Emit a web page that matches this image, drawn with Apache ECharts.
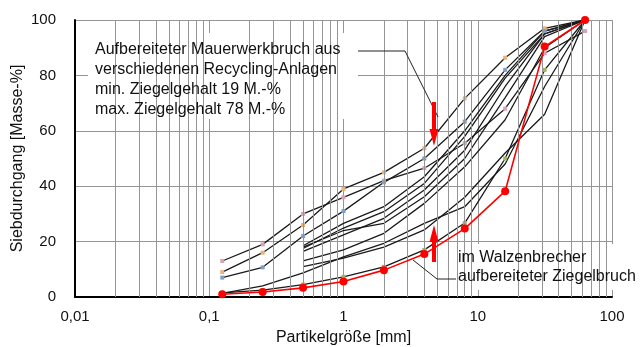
<!DOCTYPE html>
<html>
<head>
<meta charset="utf-8">
<script src="https://cdn.jsdelivr.net/npm/echarts@6/dist/echarts.min.js"></script>
<style>
  html, body { margin: 0; padding: 0; background: #fff; }
  #chart { width: 641px; height: 347px; }
</style>
</head>
<body>
<div id="chart"></div>
<script>
// Sieve sizes in mm
const sieves = [0.125, 0.25, 0.5, 1, 2, 4, 8, 16, 31.5, 63];

// Grading curves of processed masonry rubble (several recycling plants), passing in mass-%
const rc1 = [13, 19, 30, 36, 42, 46.5, 55.5, 68, 88, 96];
const rc2 = [9, 16, 26, 39, 45, 53.7, 71.7, 86.4, 97, 100];
const rc3 = [7, 10.7, 22, 31, 41.4, 50, 63.3, 82, 96, 100];
const rc4 = [null, null, 18.5, 26.6, 32.6, 43.4, 60, 80, 96, 100];
const rc5 = [null, null, 17.5, 24.9, 30.8, 41, 58, 79, 95, 100];
const rc6 = [null, null, 16.5, 22.4, 28.4, 38.6, 53, 76, 95, 100];
const rc7 = [null, null, 18, 24, 26.6, 36.2, 50, 72, 94, 100];
const rc8 = [null, null, 13, 17, 23, 33.8, 47, 64, 90, 100];
const rc9 = [1.3, 4, 8.7, 14.5, 19.4, 26.6, 32.6, 48, 76, 100];
const rc10 = [1.5, 2.5, 4.5, 7.3, 10.9, 17, 26.7, 50, 82, 100];
const rc11 = [null, null, 11, 14, 18, 24.2, 36, 52, 66, 100];

// Brick rubble processed in the roll crusher
const walzen = [1, 1.8, 3.3, 5.6, 9.7, 15.5, 24.7, 38.2, 90.4, 100];

// Axis ticks
const xTicks = [0.01, 0.1, 1, 10, 100];
const yTicks = [0, 20, 40, 60, 80, 100];

// Intermediate log grid lines (2..9 of each decade)
const minorGrid = [];
for (let d = 0.01; d < 100; d *= 10) {
  for (let k = 2; k <= 9; k++) minorGrid.push(+(k * d).toPrecision(3));
}

const FONT = '"Liberation Sans", Arial, sans-serif';
const GRID_COLOR = '#959595';

const blackSets = [
  { data: rc1, mark: '#d9a3b5' },
  { data: rc2, mark: '#e9b27c' },
  { data: rc3, mark: '#7f9fc8' },
  { data: rc4, mark: null },
  { data: rc5, mark: null },
  { data: rc6, mark: null },
  { data: rc7, mark: null },
  { data: rc8, mark: null },
  { data: rc9, mark: null },
  { data: rc10, mark: '#9cb85e' },
  { data: rc11, mark: null }
];

const pairs = arr => sieves.map((s, i) => [s, arr[i]]).filter(p => p[1] !== null);

const series = [];
// vertical log grid lines
series.push({
  type: 'line',
  data: [],
  silent: true,
  z: 0,
  markLine: {
    silent: true,
    symbol: 'none',
    label: { show: false },
    lineStyle: { color: GRID_COLOR, width: 1, type: 'solid' },
    emphasis: { disabled: true },
    animation: false,
    data: minorGrid.map(v => ({ xAxis: v }))
  }
});

blackSets.forEach(s => {
  series.push({
    type: 'line',
    data: pairs(s.data),
    symbol: s.mark ? 'rect' : 'none',
    symbolSize: 4,
    itemStyle: { color: s.mark || '#1a1a1a' },
    lineStyle: { color: '#1a1a1a', width: 1.3 },
    z: 3,
    animation: false
  });
});

series.push({
  type: 'line',
  data: pairs(walzen),
  symbol: 'circle',
  symbolSize: 8,
  itemStyle: { color: '#ff0000' },
  lineStyle: { color: '#ff0000', width: 1.6 },
  z: 5,
  animation: false
});

const chart = echarts.init(document.getElementById('chart'), null, { renderer: 'canvas' });
chart.setOption({
  animation: false,
  backgroundColor: '#ffffff',
  grid: { left: 75, right: 29, top: 20, bottom: 50, containLabel: false, outerBoundsMode: 'none' },
  xAxis: {
    type: 'log',
    logBase: 10,
    min: xTicks[0],
    max: xTicks[xTicks.length - 1],
    name: 'Partikelgröße [mm]',
    nameLocation: 'middle',
    nameGap: 33,
    nameMoveOverlap: false,
    nameTextStyle: { fontFamily: FONT, fontSize: 16, color: '#111' },
    axisLine: { show: true, lineStyle: { color: '#000', width: 2 } },
    axisTick: { show: false },
    axisLabel: {
      fontFamily: FONT, fontSize: 15, color: '#111', margin: 12,
      formatter: v => String(v).replace('.', ',')
    },
    splitLine: { show: true, lineStyle: { color: GRID_COLOR, width: 1 } }
  },
  yAxis: {
    type: 'value',
    min: yTicks[0],
    max: yTicks[yTicks.length - 1],
    interval: 20,
    name: 'Siebdurchgang [Masse-%]',
    nameLocation: 'middle',
    nameGap: 49,
    nameMoveOverlap: false,
    nameTextStyle: { fontFamily: FONT, fontSize: 16, color: '#111' },
    axisLine: { show: true, lineStyle: { color: '#000', width: 2 } },
    axisTick: { show: false },
    axisLabel: { fontFamily: FONT, fontSize: 15, color: '#111', margin: 19 },
    splitLine: { show: true, lineStyle: { color: GRID_COLOR, width: 1 } }
  },
  graphic: [
    // upper annotation
    { type: 'rect', shape: { x: 88, y: 33, width: 270, height: 86 }, style: { fill: '#fff' }, z: 1, silent: true },
    {
      type: 'text', x: 95, y: 40, z: 10, silent: true,
      style: {
        text: 'Aufbereiteter Mauerwerkbruch aus\nverschiedenen Recycling-Anlagen\nmin. Ziegelgehalt 19 M.-%\nmax. Ziegelgehalt 78 M.-%',
        font: '16px ' + FONT, fill: '#111', lineHeight: 20
      }
    },
    { type: 'polyline', shape: { points: [[358, 51], [405, 51], [438, 117]] }, style: { stroke: '#222', lineWidth: 1, fill: null }, z: 10, silent: true },
    { type: 'rect', shape: { x: 432, y: 102, width: 4, height: 28 }, style: { fill: '#ff0000' }, z: 10, silent: true },
    { type: 'polygon', shape: { points: [[429.5, 129], [438.5, 129], [434, 146]] }, style: { fill: '#ff0000' }, z: 10, silent: true },
    // lower annotation
    { type: 'rect', shape: { x: 453, y: 244, width: 188, height: 46 }, style: { fill: '#fff' }, z: 1, silent: true },
    {
      type: 'text', x: 458, y: 248, z: 10, silent: true,
      style: {
        text: 'im Walzenbrecher\naufbereiteter Ziegelbruch',
        font: '16px ' + FONT, fill: '#111', lineHeight: 19
      }
    },
    { type: 'polyline', shape: { points: [[413, 260], [437, 279], [456, 279]] }, style: { stroke: '#222', lineWidth: 1, fill: null }, z: 10, silent: true },
    { type: 'polygon', shape: { points: [[429.5, 242], [438.5, 242], [434, 225]] }, style: { fill: '#ff0000' }, z: 10, silent: true },
    { type: 'rect', shape: { x: 432, y: 241, width: 4, height: 21 }, style: { fill: '#ff0000' }, z: 10, silent: true }
  ],
  series: series
});
</script>
</body>
</html>
